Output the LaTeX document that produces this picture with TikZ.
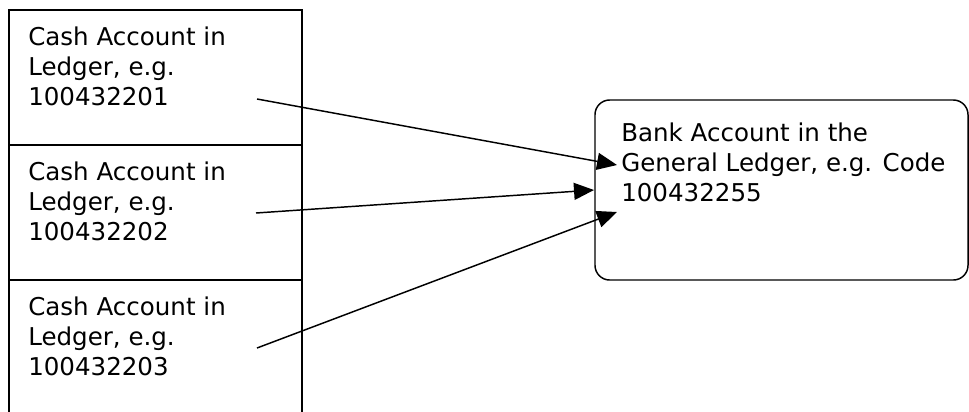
\documentclass[tikz,border=0pt]{standalone}
\usepackage{fontspec}
\setmainfont{DejaVu Sans}
\usetikzlibrary{arrows.meta,positioning}
\tikzset{
  ledgerbox/.style={draw,line width=1.1pt,outer sep=0pt,
    minimum width=219.75pt,minimum height=101.25pt},
  bankbox/.style={draw,line width=1.1pt,rounded corners=11pt,outer sep=0pt,
    minimum width=279.75pt,minimum height=135pt},
  boxtext/.style={inner sep=0pt,align=left,font=\fontsize{18.4}{22.5}\selectfont},
  link/.style={line width=1.1pt,-{Triangle[length=15pt,width=12.75pt]}}
}
\begin{document}
\begin{tikzpicture}[x=0.75pt,y=0.75pt]
  \clip (0,0) rectangle (969,-411);
  % ledger column
  \node[ledgerbox,anchor=north west] (cash1) at (9,-10) {};
  \node[ledgerbox,below=0pt of cash1] (cash2) {};
  \node[ledgerbox,below=0pt of cash2] (cash3) {};
  \node[boxtext,anchor=north west] (cash1txt) at ([shift={(19,-16.4)}]cash1.north west)
    {Cash Account in\\Ledger, e.g.\\100432201};
  \node[boxtext,anchor=north west] (cash2txt) at ([shift={(19,-16.4)}]cash2.north west)
    {Cash Account in\\Ledger, e.g.\\100432202};
  \node[boxtext,anchor=north west] (cash3txt) at ([shift={(19,-16.4)}]cash3.north west)
    {Cash Account in\\Ledger, e.g.\\100432203};
  % general ledger
  \node[bankbox,anchor=north west] (bank) at (595,-100) {};
  \node[boxtext,anchor=north west] (banktxt) at ([shift={(26,-23)}]bank.north west)
    {Bank Account in the\\General Ledger, e.g. Code\\100432255};
  % arrow ends
  \coordinate (from1) at ([shift={(248,-89)}]cash1.north west);
  \coordinate (from2) at ([shift={(247,-68)}]cash2.north west);
  \coordinate (from3) at ([shift={(248,-68)}]cash3.north west);
  \coordinate (to1) at ([shift={(22,-65)}]bank.north west);
  \coordinate (to2) at ([shift={(-1,-90)}]bank.north west);
  \coordinate (to3) at ([shift={(22,-112)}]bank.north west);
  \draw[link] (from1) -- (to1);
  \draw[link] (from2) -- (to2);
  \draw[link] (from3) -- (to3);
\end{tikzpicture}
\end{document}
